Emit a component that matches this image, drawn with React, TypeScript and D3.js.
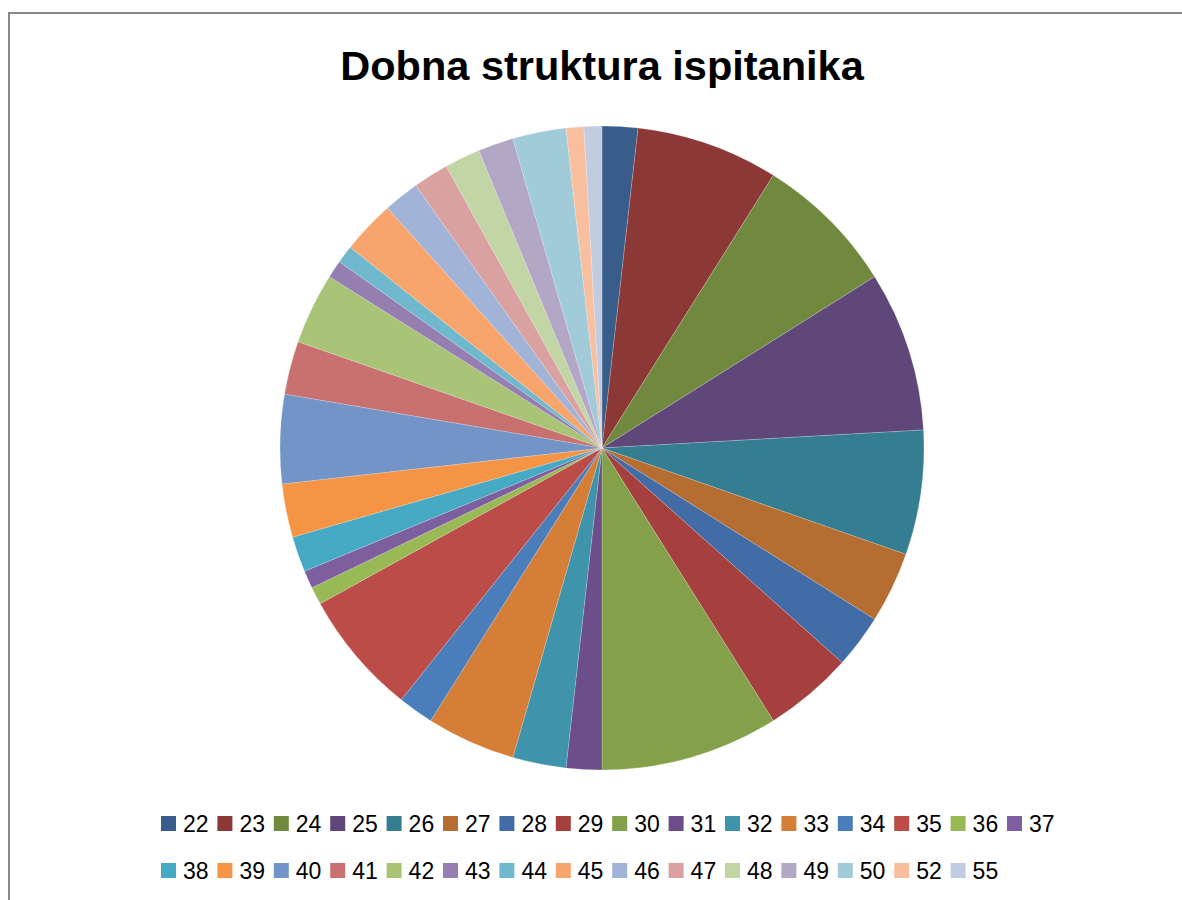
import React from "react";
import * as d3 from "d3";

const ages: string[] = ["22","23","24","25","26","27","28","29","30","31","32","33","34","35","36","37","38","39","40","41","42","43","44","45","46","47","48","49","50","52","55"];
const counts: number[] = [2,8,8,9,7,4,3,5,10,2,3,5,2,7,1,1,2,3,5,3,4,1,1,3,2,2,2,2,3,1,1];
const colors: string[] = [
  "#385D8A","#8C3836","#71893F","#5F4879","#357D91","#B66D31",
  "#426CA5","#A5403E","#84A04A","#6C4F8A","#3F93AB","#D57E37",
  "#4A7EBB","#BB4C48","#98B954","#7D5FA0","#46AAC5","#F69446",
  "#7394C6","#C97070","#A9C377","#957FB1","#6FB8CE","#F8A56D",
  "#A1B3D7","#D9A2A1","#C2D5A5","#B3A7C6","#A2CBDA","#F9C0A0","#C1CCE1"
];
const title = "Dobna struktura ispitanika";

export default function App() {
  const W = 1182, H = 900;
  const cx = 602, cy = 448, r = 322;
  const data = ages.map((a, i) => ({ age: a, value: counts[i], color: colors[i] }));
  const pie = d3.pie<any>().sort(null).value((d: any) => d.value).startAngle(0).endAngle(Math.PI * 2);
  const arc = d3.arc<any>().innerRadius(0).outerRadius(r);
  const arcs = pie(data);

  const perRow = 16;
  const legendX = d3.scaleLinear().domain([0, 1]).range([161, 161 + 56.4]);
  const rowY = [816, 863];

  return (
    <svg width={W} height={H} style={{ position: "absolute", left: 0, top: 0, display: "block" }}
      fontFamily="'Liberation Sans', Arial, sans-serif">
      <rect x={0} y={0} width={W} height={H} fill="#ffffff" />
      <rect x={9} y={13} width={1300} height={1000} fill="none" stroke="#878787" strokeWidth={2} />
      <text x={cx} y={80} textAnchor="middle" fontSize={41.5} fontWeight="bold" fill="#000">{title}</text>
      <g transform={`translate(${cx},${cy})`}>
        {arcs.map((a, i) => (
          <path key={i} d={arc(a) as string} fill={a.data.color} stroke="#ffffff" strokeOpacity={0.3} strokeWidth={0.6} />
        ))}
      </g>
      <g>
        {data.map((d, i) => {
          const row = Math.floor(i / perRow);
          const col = i % perRow;
          const x = legendX(col);
          const y = rowY[row];
          return (
            <g key={i}>
              <rect x={x} y={y} width={15} height={15} fill={d.color} />
              <text x={x + 22} y={y + 15.5} fontSize={23} fill="#000">{d.age}</text>
            </g>
          );
        })}
      </g>
    </svg>
  );
}
